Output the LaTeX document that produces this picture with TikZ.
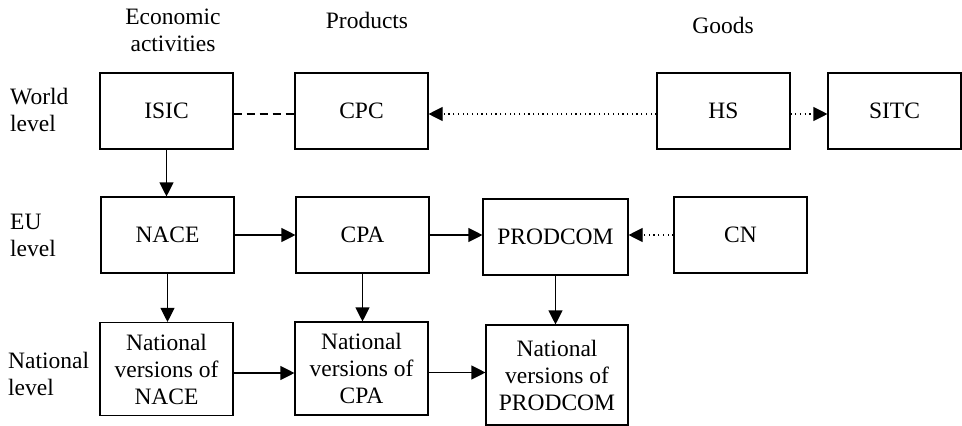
\documentclass[tikz,border=0pt]{standalone}
\usepackage{fontspec}
\setmainfont{Liberation Serif}
\usetikzlibrary{arrows.meta}
\begin{document}
\begin{tikzpicture}[x=1pt,y=-1pt,
  every node/.style={font=\fontsize{23.5}{27}\selectfont},
  box/.style={draw, line width=1.1pt, rectangle, minimum width=133pt, minimum height=76pt, inner sep=2pt, align=center},
  tallbox/.style={box, minimum height=93pt},
  lbl/.style={align=center, inner sep=0pt},
  sidelbl/.style={align=left, inner sep=0pt, anchor=west},
  arr/.style={line width=1.1pt, -{Triangle[length=14pt,width=14pt]}},
  dotarr/.style={line width=1.1pt, dash pattern=on 1.2pt off 3.5pt, -{Triangle[length=14pt,width=14pt]}},
  dashln/.style={line width=1.1pt, dash pattern=on 8pt off 5pt}]
  \useasboundingbox (0,0) rectangle (962,426);

  % column headings
  \node[lbl] (hea) at (173,30) {Economic\\activities};
  \node[lbl] (hpr) at (367,20) {Products};
  \node[lbl] (hgo) at (723,25) {Goods};

  % row headings
  \node[sidelbl] (rw) at (10,110) {World\\level};
  \node[sidelbl] (re) at (10,235.5) {EU\\level};
  \node[sidelbl] (rn) at (8,373.5) {National\\level};

  % world level
  \node[box] (isic) at (166.5,111) {ISIC};
  \node[box] (cpc)  at (361.5,111) {CPC};
  \node[box] (hs)   at (723.5,111) {HS};
  \node[box] (sitc) at (894.5,111) {SITC};

  % EU level
  \node[box] (nace) at (167.5,235) {NACE};
  \node[box] (cpa)  at (362.5,235) {CPA};
  \node[box, minimum width=145pt] (prod) at (555.5,237) {PRODCOM};
  \node[box] (cn)   at (740.5,235) {CN};

  % national level
  \node[tallbox] (nnace) at (166.5,369) {National\\versions of\\NACE};
  \node[tallbox] (ncpa)  at (361.5,368.5) {National\\versions of\\CPA};
  \node[tallbox, minimum width=142pt, minimum height=100pt] (nprod) at (557,375) {National\\versions of\\PRODCOM};

  % connectors
  \draw[dashln] ([yshift=-3pt]isic.east) -- ([yshift=-3pt]cpc.west);
  \draw[dotarr] ([yshift=-3pt]hs.west) -- ([yshift=-3pt]cpc.east);
  \draw[dotarr] ([yshift=-3pt]hs.east) -- ([yshift=-3pt]sitc.west);
  \draw[arr] (isic.south) -- (nace.north -| isic.south);
  \draw[arr] (nace.east) -- (cpa.west);
  \draw[arr] (cpa.east) -- (prod.west |- cpa.east);
  \draw[dotarr] (cn.west) -- (prod.east |- cn.west);
  \draw[arr] (nace.south) -- (nnace.north -| nace.south);
  \draw[arr] (cpa.south) -- (ncpa.north -| cpa.south);
  \draw[arr] (prod.south) -- (nprod.north -| prod.south);
  \draw[arr] ([yshift=-4pt]nnace.east) -- ([yshift=-4pt]nnace.east -| ncpa.west);
  \draw[arr] ([yshift=-4pt]ncpa.east) -- ([yshift=-4pt]ncpa.east -| nprod.west);
\end{tikzpicture}
\end{document}
